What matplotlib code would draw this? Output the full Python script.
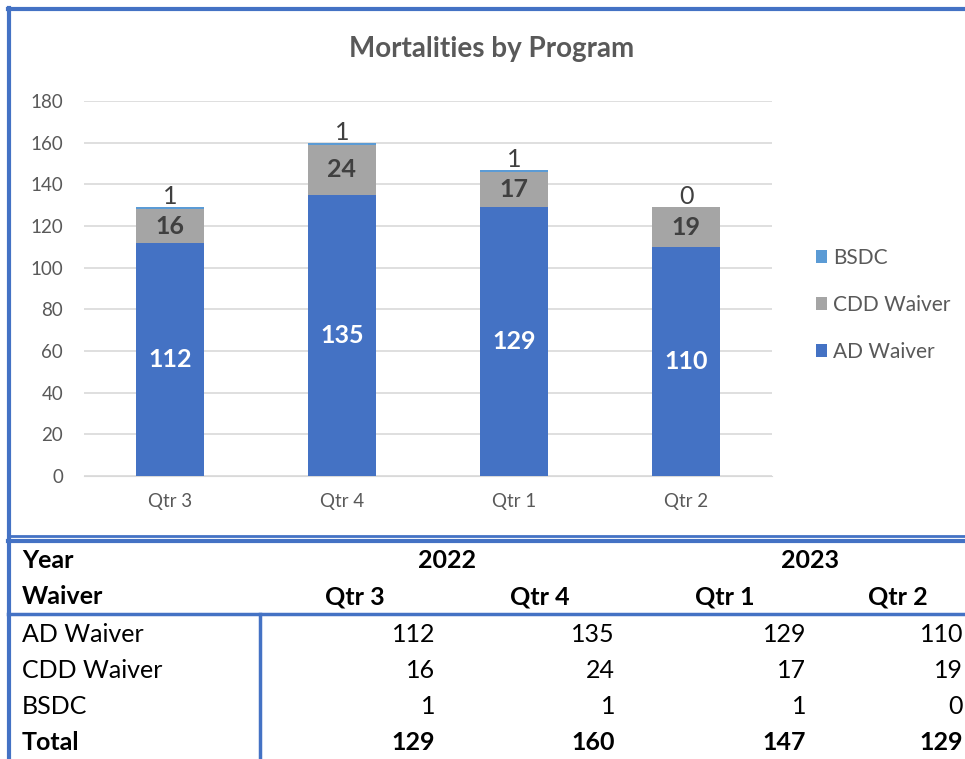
import matplotlib.pyplot as plt
import numpy as np
from matplotlib.lines import Line2D

plt.rcParams['font.family'] = ['Lato', 'DejaVu Sans']

quarters = ['Qtr 3', 'Qtr 4', 'Qtr 1', 'Qtr 2']
years = ['2022', '2023']
ad_waiver = [112, 135, 129, 110]
cdd_waiver = [16, 24, 17, 19]
bsdc = [1, 1, 1, 0]
totals = [129, 160, 147, 129]

C_AD = '#4472C4'
C_CDD = '#A5A5A5'
C_BSDC = '#5B9BD5'
BORDER = '#4472C4'

W, H = 965, 759
fig = plt.figure(figsize=(W / 100, H / 100), dpi=100)


def fx(px):
    return px / W


def fy(py):
    return 1 - py / H


ax = fig.add_axes([fx(84), fy(476), fx(688), fy(101) - fy(476)])
x = np.arange(len(quarters))
width = 0.4
ad = np.array(ad_waiver)
cdd = np.array(cdd_waiver)
bs = np.array(bsdc)

b1 = ax.bar(x, ad, width, color=C_AD, label='AD Waiver', zorder=3)
b2 = ax.bar(x, cdd, width, bottom=ad, color=C_CDD, label='CDD Waiver', zorder=3)
b3 = ax.bar(x, bs, width, bottom=ad + cdd, color=C_BSDC, label='BSDC', zorder=3)

for i in range(len(quarters)):
    ax.text(x[i], ad[i] / 2, str(ad[i]), ha='center', va='center',
            color='white', fontsize=18, fontweight='bold', zorder=4)
    ax.text(x[i], ad[i] + cdd[i] / 2, str(cdd[i]), ha='center', va='center',
            color='#404040', fontsize=18, fontweight='bold', zorder=4)
    ax.text(x[i], ad[i] + cdd[i] + bs[i] - 0.5, str(bs[i]), ha='center', va='bottom',
            color='#404040', fontsize=18, zorder=4)

ax.set_xlim(-0.5, len(quarters) - 0.5)
ax.set_ylim(0, 180)
ax.set_yticks(np.arange(0, 181, 20))
ax.set_xticks(x)
ax.set_xticklabels(quarters)
ax.tick_params(axis='both', length=0, labelsize=13.5, colors='#595959')
ax.tick_params(axis='x', pad=12)
ax.tick_params(axis='y', pad=15)
ax.grid(axis='y', color='#D9D9D9', linewidth=1.2, zorder=0)
for s in ax.spines.values():
    s.set_visible(False)
ax.spines['bottom'].set_visible(True)
ax.spines['bottom'].set_color('#D9D9D9')

handles = [b3, b2, b1]
ax.legend(handles, ['BSDC', 'CDD Waiver', 'AD Waiver'], loc='center left',
          bbox_to_anchor=(fx(797), fy(305)), bbox_transform=fig.transFigure,
          frameon=False, fontsize=15, labelcolor='#595959',
          handlelength=0.55, handleheight=0.55, handletextpad=0.3, labelspacing=1.3)

fig.text(fx(492), fy(49), 'Mortalities by Program', ha='center', va='center',
         fontsize=20, fontweight='bold', color='#595959')

# chart frame and table lines
def hline(y, x0, x1, lw=2.5):
    fig.add_artist(Line2D([fx(x0), fx(x1)], [fy(y), fy(y)], color=BORDER, lw=lw))


def vline(xp, y0, y1, lw=2.5):
    fig.add_artist(Line2D([fx(xp), fx(xp)], [fy(y0), fy(y1)], color=BORDER, lw=lw))


hline(9, 8, 965, lw=3)
vline(9, 8, 759, lw=3)
hline(536, 8, 965, lw=2)
hline(541, 8, 965, lw=3)
hline(614, 8, 965, lw=2.5)
vline(260, 614, 759, lw=2.5)

# table
fs = 18
fig.text(fx(22), fy(560), 'Year', ha='left', va='center', fontsize=fs, fontweight='bold')
fig.text(fx(22), fy(597), 'Waiver', ha='left', va='center', fontsize=fs, fontweight='bold')
fig.text(fx(447), fy(560), years[0], ha='center', va='center', fontsize=fs, fontweight='bold')
fig.text(fx(810), fy(560), years[1], ha='center', va='center', fontsize=fs, fontweight='bold')

col_right = [435, 615, 806, 963]
q_centers = [355, 540, 725, 898]
for q, cx in zip(quarters, q_centers):
    fig.text(fx(cx), fy(597), q, ha='center', va='center', fontsize=fs, fontweight='bold')

rows = [('AD Waiver', ad_waiver, 'normal'), ('CDD Waiver', cdd_waiver, 'normal'),
        ('BSDC', bsdc, 'normal'), ('Total', totals, 'bold')]
row_y = [634, 670, 706, 742]
for (name, vals, wt), yy in zip(rows, row_y):
    fig.text(fx(22), fy(yy), name, ha='left', va='center', fontsize=fs, fontweight=wt)
    for v, xr in zip(vals, col_right):
        fig.text(fx(xr), fy(yy), str(v), ha='right', va='center', fontsize=fs, fontweight=wt)

plt.savefig('out.png', dpi=100)
